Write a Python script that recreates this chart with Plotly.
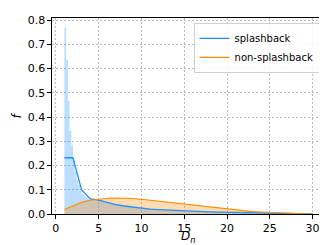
import plotly.graph_objects as go

# fine-bin histogram of splashback (left edges, heights)
hist_edges = [1.0, 1.2, 1.4, 1.6, 1.8, 2.0, 2.2, 2.4, 2.6, 2.8, 3.0, 3.2, 3.4, 3.6, 3.8]
hist_heights = [0.77, 0.636, 0.467, 0.343, 0.284, 0.23, 0.175, 0.14, 0.12, 0.10,
                0.085, 0.079, 0.072, 0.066, 0.062]
bin_width = 0.2

# coarse curves
d_vals = list(range(1, 31))
splash_f = [0.232, 0.232, 0.100, 0.063, 0.057, 0.047, 0.039, 0.033, 0.028, 0.024,
            0.020, 0.018, 0.016, 0.014, 0.012, 0.011, 0.010, 0.009, 0.008, 0.007,
            0.006, 0.005, 0.004, 0.004, 0.003, 0.002, 0.002, 0.001, 0.001, 0.000]
nonsplash_f = [0.019, 0.035, 0.048, 0.057, 0.062, 0.065, 0.066, 0.066, 0.064, 0.061,
               0.057, 0.053, 0.049, 0.045, 0.041, 0.036, 0.032, 0.028, 0.024, 0.021,
               0.017, 0.013, 0.010, 0.008, 0.006, 0.005, 0.004, 0.003, 0.001, 0.000]

x_ticks = [0, 5, 10, 15, 20, 25, 30]
y_ticks = [0.0, 0.1, 0.2, 0.3, 0.4, 0.5, 0.6, 0.7, 0.8]

blue = "#1e90ff"
orange = "#ff8c00"
blue_fill = "rgba(30,144,255,0.3)"
orange_fill = "rgba(255,140,0,0.3)"

fig = go.Figure()
fig.add_trace(go.Bar(x=hist_edges, y=hist_heights, width=[bin_width] * len(hist_edges),
                     offset=0, marker=dict(color=blue_fill, line=dict(width=0)),
                     showlegend=False, hoverinfo="skip"))
fig.add_trace(go.Scatter(x=d_vals[3:], y=splash_f[3:], mode="lines", fill="tozeroy",
                         fillcolor=blue_fill, line=dict(width=0), showlegend=False,
                         hoverinfo="skip"))
fig.add_trace(go.Scatter(x=d_vals, y=nonsplash_f, mode="lines", fill="tozeroy",
                         fillcolor=orange_fill, line=dict(width=0), showlegend=False,
                         hoverinfo="skip"))
fig.add_trace(go.Scatter(x=d_vals, y=splash_f, mode="lines", name="splashback",
                         line=dict(color=blue, width=1.3)))
fig.add_trace(go.Scatter(x=d_vals, y=nonsplash_f, mode="lines", name="non-splashback",
                         line=dict(color=orange, width=1.1)))

axis_common = dict(showline=True, mirror=True, linecolor="black", linewidth=1.2,
                   ticks="outside", ticklen=3.5, tickwidth=1, tickcolor="black",
                   showgrid=True, gridcolor="#bdbdbd", gridwidth=0.6,
                   griddash="2px,2px", automargin=False,
                   zeroline=False, tickfont=dict(size=11, color="black"))

fig.update_layout(
    width=327, height=245,
    margin=dict(l=44, r=10, t=10, b=39, autoexpand=False),
    plot_bgcolor="white", paper_bgcolor="white",
    font=dict(family="DejaVu Sans", size=11, color="black"),
    barmode="overlay",
    xaxis=dict(range=[-0.45, 31.45], tickvals=x_ticks,
               ticktext=[str(v) for v in x_ticks], **axis_common),
    yaxis=dict(range=[0, 0.8085], tickvals=y_ticks,
               ticktext=[f"{v:.1f}" for v in y_ticks], **axis_common),
    legend=dict(x=0.98, y=0.975, xanchor="right", yanchor="top",
                bgcolor="rgba(255,255,255,0.85)", bordercolor="#d0d0d0", borderwidth=1,
                font=dict(size=10), itemwidth=30, tracegroupgap=0),
    annotations=[
        dict(text="<i>D</i><sub><i>n</i></sub>", xref="paper", yref="paper",
             x=0.5, y=-0.066, xanchor="center", yanchor="top", showarrow=False,
             font=dict(size=12)),
        dict(text="<i>f</i>", xref="paper", yref="paper", x=-0.13, y=0.5,
             xanchor="center", yanchor="middle", showarrow=False, textangle=-90,
             font=dict(size=12)),
    ],
)

fig.write_html("out.html")
